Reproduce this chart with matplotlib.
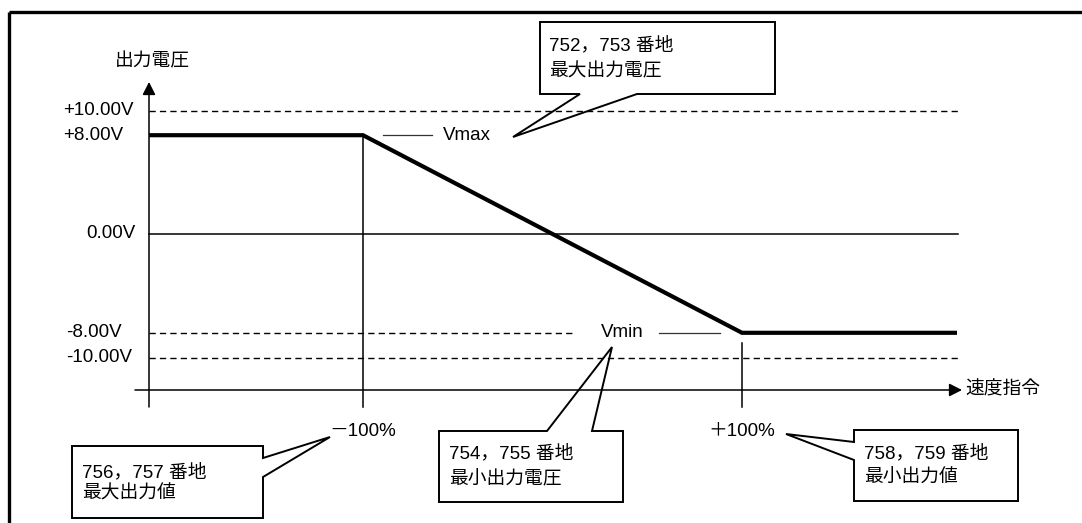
import matplotlib
matplotlib.use("Agg")
import matplotlib.pyplot as plt
from matplotlib.patches import Polygon

plt.rcParams['font.family'] = ['Liberation Sans', 'Noto Sans CJK JP', 'DejaVu Sans']

# values of the diagram
speed_pct = [-100, 100]          # speed command at the two knees
volt_out = [8.0, -8.0]           # output voltage at the two knees
levels = [10.0, 8.0, 0.0, -8.0, -10.0]
level_labels = ['+10.00V', '+8.00V', '0.00V', '-8.00V', '-10.00V']
pct_labels = ['－100%', '＋100%']
callouts = ['752，753 番地\n最大出力電圧',
            '756，757 番地\n最大出力値',
            '754，755 番地\n最小出力電圧',
            '758，759 番地\n最小出力値']

# pixel layout -> data units (percent, volt)
X0, SX = 552.5, 1.895
Y0, SY = 234.0, 12.35

def P(px, py):
    return ((px - X0) / SX, (Y0 - py) / SY)

def PX(px):
    return (px - X0) / SX

def PY(py):
    return (Y0 - py) / SY

fig = plt.figure(figsize=(10.82, 5.23), dpi=100)
ax = fig.add_axes([0, 0, 1, 1])
ax.set_xlim(PX(0), PX(1082))
ax.set_ylim(PY(523), PY(0))
ax.axis('off')

FS = 13.5
k = 'black'
x_ax = PX(149)
x_end = PX(958)

# outer frame (top and left only)
ax.plot([PX(9), PX(1082)], [PY(12), PY(12)], color=k, lw=2.4, solid_capstyle='butt')
ax.plot([PX(9), PX(9)], [PY(12), PY(523)], color=k, lw=2.4, solid_capstyle='butt')

# axes with arrows
ax.annotate('', xy=P(149, 82), xytext=P(149, 407),
            arrowprops=dict(arrowstyle='-|>,head_length=0.55,head_width=0.28',
                            mutation_scale=14, lw=1.1, color=k, shrinkA=0, shrinkB=0))
ax.annotate('', xy=P(962, 390), xytext=P(135, 390),
            arrowprops=dict(arrowstyle='-|>,head_length=0.55,head_width=0.28',
                            mutation_scale=14, lw=1.1, color=k, shrinkA=0, shrinkB=0))
ax.text(*P(115, 62), '出力電圧', fontsize=FS, ha='left', va='center')
ax.text(*P(965, 390), '速度指令', fontsize=FS, ha='left', va='center')

# reference levels
dash = (0, (4.5, 3))
ax.plot([x_ax, x_end], [levels[0], levels[0]], color=k, lw=1.0, ls=dash)
ax.plot([x_ax, x_end], [levels[4], levels[4]], color=k, lw=1.0, ls=dash)
ax.plot([x_ax, PX(575)], [levels[3], levels[3]], color=k, lw=1.0, ls=dash)
ax.plot([x_ax, x_end], [levels[2], levels[2]], color=k, lw=1.1)

# level labels
for v, lab in zip(levels, level_labels):
    if v == 0:
        ax.text(PX(135), v, lab, fontsize=FS, ha='right', va='center')
    elif v > 0:
        ax.text(PX(63), v, lab, fontsize=FS, ha='left', va='center')
    else:
        ax.text(PX(66), v, lab, fontsize=FS, ha='left', va='center')

# vertical markers at -100 % and +100 %
ax.plot([speed_pct[0], speed_pct[0]], [volt_out[0], PY(407)], color=k, lw=1.1)
ax.plot([speed_pct[1], speed_pct[1]], [PY(343), PY(407)], color=k, lw=1.1)
for x, lab in zip(speed_pct, pct_labels):
    ax.text(x, PY(432), lab, fontsize=FS, ha='center', va='center')

# output characteristic
xs = [x_ax] + speed_pct + [PX(957)]
ys = [volt_out[0]] + volt_out + [volt_out[-1]]
ax.plot(xs, ys, color=k, lw=3.0, solid_joinstyle='miter', solid_capstyle='butt')

# Vmax / Vmin labels
ax.plot([PX(383), PX(432)], [volt_out[0], volt_out[0]], color='#333333', lw=0.9)
ax.text(PX(443), volt_out[0], 'Vmax', fontsize=FS, ha='left', va='center')
ax.plot([PX(659), PX(720)], [volt_out[1], volt_out[1]], color='#333333', lw=0.9)
ax.text(PX(644), volt_out[1], 'Vmin', fontsize=FS, ha='right', va='center')

# callout bubbles
shapes = [
    [(540, 22), (775, 22), (775, 94), (637, 94), (513, 137), (580, 94), (540, 94)],
    [(72, 446), (263, 446), (263, 458), (330, 437), (263, 477), (263, 518), (72, 518)],
    [(439, 431), (547, 431), (612, 347), (592, 431), (623, 431), (623, 502), (439, 502)],
    [(854, 430), (1018, 430), (1018, 501), (854, 501), (854, 460), (786, 434), (854, 442)],
]
text_pos = [(549, 45, 72), (82, 472, 494), (449, 453, 480), (864, 453, 478)]

for shp, txt, (tx, ty1, ty2) in zip(shapes, callouts, text_pos):
    ax.add_patch(Polygon([P(a, b) for a, b in shp], closed=True,
                         facecolor='none', edgecolor=k, lw=1.4, joinstyle='miter'))
    l1, l2 = txt.split('\n')
    ax.text(*P(tx, ty1), l1, fontsize=FS, ha='left', va='center')
    ax.text(*P(tx, ty2), l2, fontsize=FS, ha='left', va='center')

fig.savefig('out.png', dpi=100)
